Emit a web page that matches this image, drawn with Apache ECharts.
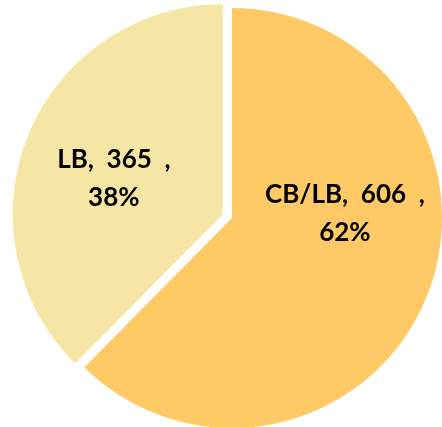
<!DOCTYPE html>
<html><head><meta charset="utf-8">
<script src="https://cdn.jsdelivr.net/npm/echarts@6/dist/echarts.min.js"></script>
<style>html,body{margin:0;padding:0;background:#fff}#c{width:442px;height:427px}</style>
</head><body><div id="c"></div>
<script>
const categories = ['CB/LB', 'LB'];
const values = [606, 365];
const colors = ['#FFCA66', '#F6E6A5'];
const labelShift = [[13, -45], [-9, 5]];

const chart = echarts.init(document.getElementById('c'), null, {renderer: 'canvas'});
chart.setOption({
  animation: false,
  series: [{
    type: 'pie',
    center: [232, 218],
    radius: [0, 210],
    startAngle: 90,
    clockwise: true,
    selectedMode: 'single',
    selectedOffset: 10,
    percentPrecision: 0,
    emphasis: {disabled: true},
    label: {
      show: true,
      position: 'inside',
      formatter: p => p.name + ',  ' + p.value + '  ,\n' + p.percent + '%',
      fontFamily: 'Lato',
      fontWeight: 'bold',
      fontSize: 26,
      lineHeight: 38,
      color: '#000',
      align: 'center'
    },
    labelLayout: p => ({dx: labelShift[p.dataIndex][0], dy: labelShift[p.dataIndex][1]}),
    labelLine: {show: false},
    data: categories.map((c, i) => ({
      name: c, value: values[i], selected: i === 1,
      itemStyle: {color: colors[i]}
    }))
  }]
});
</script></body></html>
